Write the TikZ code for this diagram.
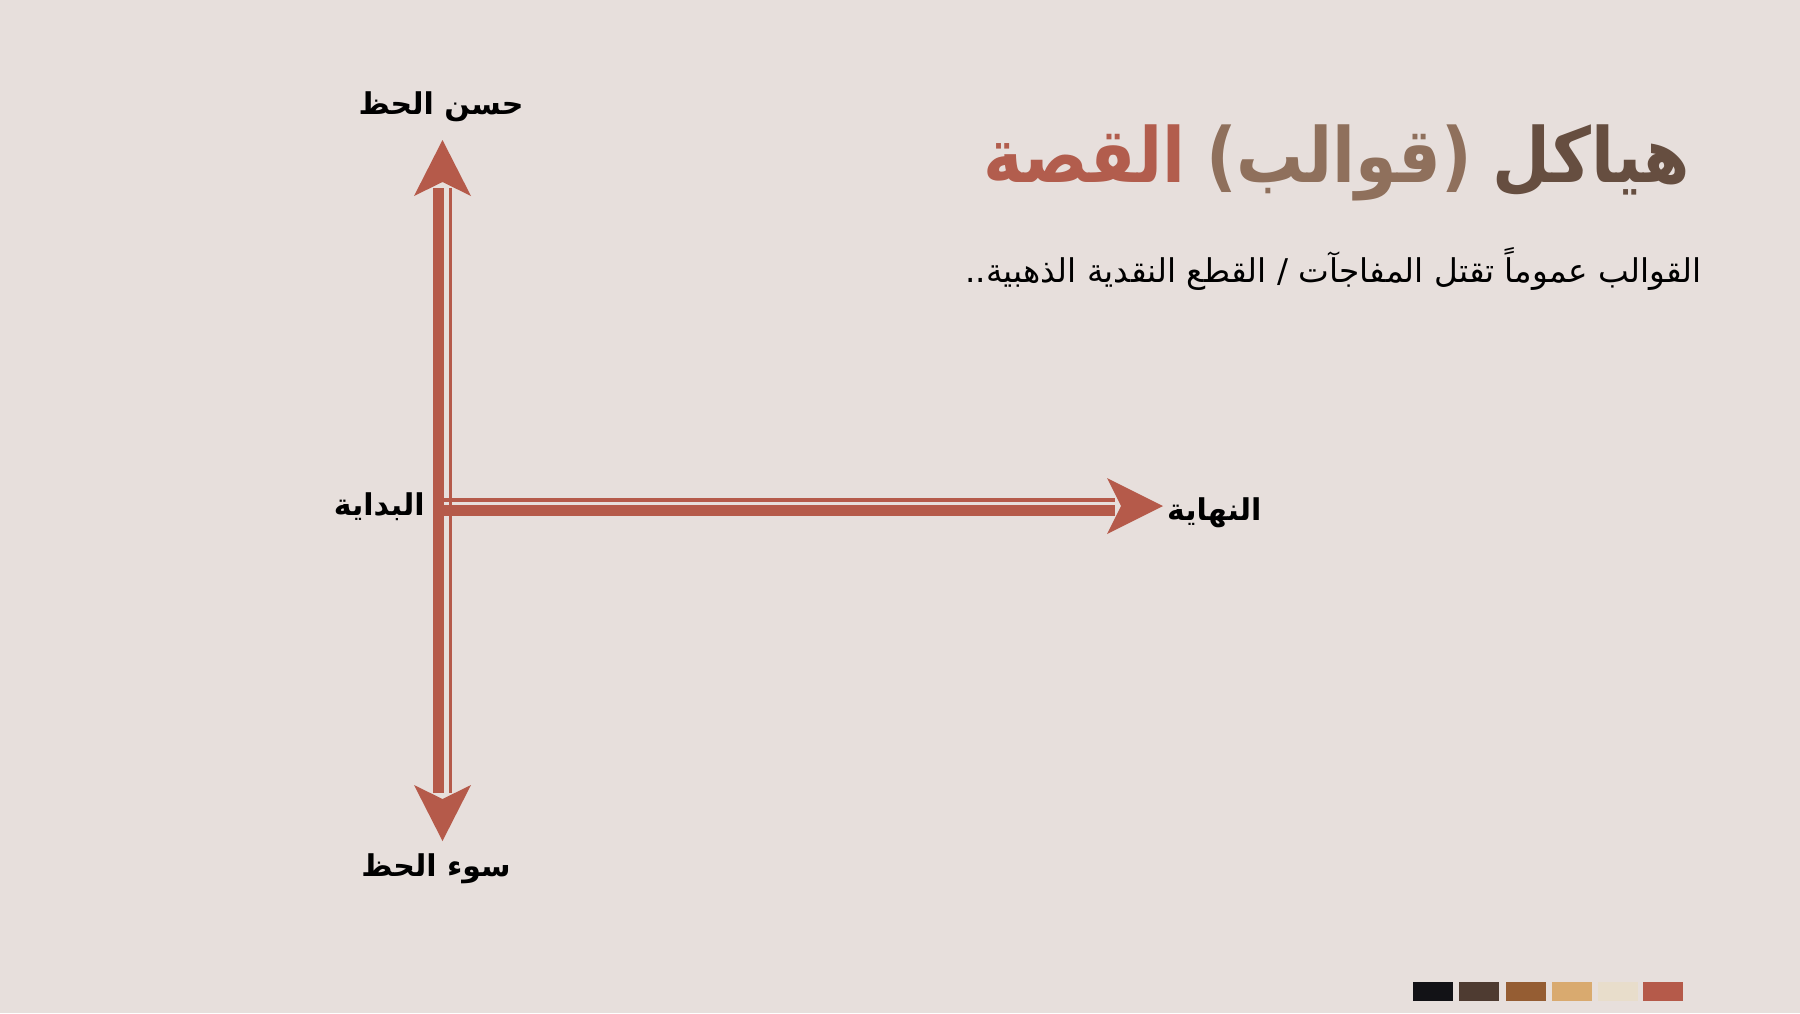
\documentclass[tikz,border=0pt]{standalone}
\usepackage{fontspec}
\newfontfamily\arabicfont[Script=Arabic]{DejaVu Sans}
\newfontfamily\arabictitle[Script=Arabic, FakeStretch=0.88]{DejaVu Sans}
\TeXXeTstate=1
\definecolor{bg}{RGB}{231,223,220}
\definecolor{arrowc}{RGB}{181,90,74}
\definecolor{tA}{RGB}{178,93,77}
\definecolor{tB}{RGB}{143,112,92}
\definecolor{tC}{RGB}{102,78,64}
\definecolor{pA}{RGB}{18,18,22}
\definecolor{pB}{RGB}{78,59,49}
\definecolor{pC}{RGB}{149,93,51}
\definecolor{pD}{RGB}{217,170,111}
\definecolor{pE}{RGB}{232,221,203}
\definecolor{pF}{RGB}{181,90,74}
\tikzset{
  thickbar/.style={draw=arrowc, line width=11pt},
  thinbar/.style={draw=arrowc, line width=3.8pt},
  head/.style={fill=arrowc},
  ttl/.style={inner sep=0pt, font=\arabictitle\bfseries\fontsize{76}{90}\selectfont},
  lab/.style={inner sep=0pt, font=\arabicfont\bfseries\fontsize{30}{36}\selectfont},
  sub/.style={inner sep=0pt, font=\arabicfont\fontsize{32.7}{40}\selectfont},
  swatch/.style={minimum width=40pt, minimum height=19pt, inner sep=0pt, anchor=north west}
}
\begin{document}
\begin{tikzpicture}[x=1pt,y=-1pt]
\useasboundingbox (0,0) rectangle (1800,1013);
\fill[bg] (0,0) rectangle (1800,1013);

% title, word by word for the colour gradient
\node[ttl, text=tC, anchor=base east] (t1) at (1690,182) {\beginR هياكل\endR};
\node[ttl, text=tB, anchor=base east] (t2) at ([xshift=-20pt]t1.base west) {\beginR (قوالب)\endR};
\node[ttl, text=tA, anchor=base east] (t3) at ([xshift=-20pt]t2.base west) {\beginR القصة\endR};

\node[sub, anchor=base east] (subtitle) at (1702,282) {\beginR القوالب عموماً تقتل المفاجآت / القطع النقدية الذهبية..\endR};

% labels
\node[lab, anchor=base] (good) at (441,114) {\beginR حسن الحظ\endR};
\node[lab, anchor=base] (bad) at (436,876) {\beginR سوء الحظ\endR};
\node[lab, anchor=base east] (start) at (425,515) {\beginR البداية\endR};
\node[lab, anchor=base west] (end) at (1167,520) {\beginR النهاية\endR};

% arrow geometry
\coordinate (T) at (442.5,140);
\coordinate (B) at (442.5,841);
\coordinate (R) at (1163,506);
\coordinate (vt) at (442.5,188);
\coordinate (vb) at (442.5,793);
\coordinate (hl) at (444.3,506);
\coordinate (hr) at (1115,506);

% vertical shaft
\draw[thickbar] ([xshift=-3.7pt]vb) -- ([xshift=-3.7pt]vt);
\draw[thinbar] ([xshift=8pt]vb) -- ([xshift=8pt]vt);
% horizontal shaft
\draw[thickbar] ([yshift=-4.5pt]hl) -- ([yshift=-4.5pt]hr);
\draw[thinbar] ([yshift=6.3pt]hl) -- ([yshift=6.3pt]hr);

% heads
\fill[head] (T) -- ++(-28.5,56) -- ++(28.5,-14) -- ++(28.5,14) -- cycle;
\fill[head] (B) -- ++(-28.5,-56) -- ++(28.5,14) -- ++(28.5,-14) -- cycle;
\fill[head] (R) -- ++(-56,-28) -- ++(14,28) -- ++(-14,28) -- cycle;

% palette
\node[swatch, fill=pA] (s1) at (1413,982) {};
\node[swatch, fill=pB] (s2) at (1459,982) {};
\node[swatch, fill=pC] (s3) at (1506,982) {};
\node[swatch, fill=pD] (s4) at (1552,982) {};
\node[swatch, fill=pE] (s5) at (1598,982) {};
\node[swatch, fill=pF] (s6) at (1643,982) {};
\end{tikzpicture}
\end{document}
